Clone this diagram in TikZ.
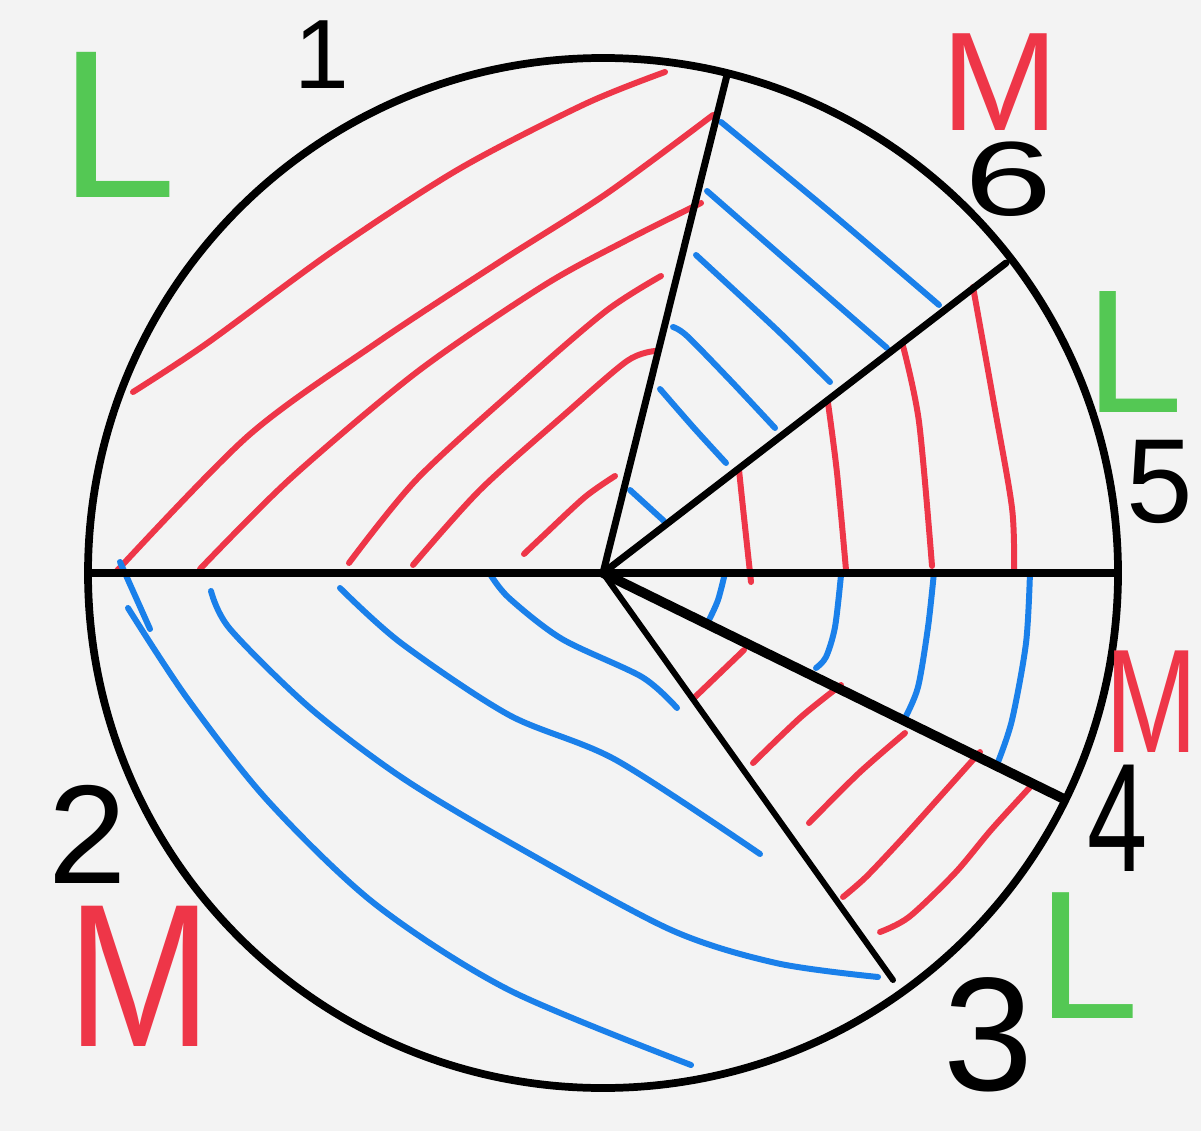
\documentclass[tikz,border=0pt]{standalone}
\usepackage{fontspec}
\setmainfont{Liberation Sans}
\definecolor{penred}{RGB}{238,54,72}
\definecolor{penblue}{RGB}{26,128,234}
\definecolor{pengreen}{RGB}{84,200,84}
\definecolor{paper}{RGB}{243,243,243}
\begin{document}
\begin{tikzpicture}
[x=0.01cm, y=-0.01cm, line cap=round, line join=round]
\tikzstyle{redline}=[draw=penred, line width=1.7pt]
\tikzstyle{blueline}=[draw=penblue, line width=1.7pt]
\tikzstyle{spoke}=[draw=black, line width=2pt]
\tikzstyle{hand}=[inner sep=0pt, text=black]
\fill[paper] (0,0) rectangle (1201,1131);
\useasboundingbox (0,0) rectangle (1201,1131);

\coordinate (O)  at (603,573);
\coordinate (P1) at (727,75);
\coordinate (P2) at (1006,263);
\coordinate (P3) at (1118,573);
\coordinate (P4) at (88,573);
\coordinate (P5) at (1064,799);
\coordinate (P6) at (893,980);

% sector 1
\draw[redline] plot[smooth] coordinates {(133,392) (206,344) (333,251) (459,169) (585,104) (665,72)};
\draw[redline] plot[smooth] coordinates {(114,574) (248,436) (375,344) (501,261) (606,194) (713,115)};
\draw[redline] plot[smooth] coordinates {(200,569) (290,479) (417,372) (543,286) (627,240) (701,203)};
\draw[redline] plot[smooth] coordinates {(349,563) (417,479) (522,383) (606,311) (661,276)};
\draw[redline] plot[smooth] coordinates {(413,565) (480,490) (564,415) (627,361) (655,351)};
\draw[redline] plot[smooth] coordinates {(524,554) (543,536) (585,497) (615,476)};
% sector 6
\draw[blueline] plot[smooth] coordinates {(721,122) (830,212) (939,305)};
\draw[blueline] plot[smooth] coordinates {(707,191) (794,267) (887,348)};
\draw[blueline] plot[smooth] coordinates {(696,255) (776,329) (830,382)};
\draw[blueline] plot[smooth] coordinates {(673,327) (687,336) (730,380) (775,428)};
\draw[blueline] plot[smooth] coordinates {(660,389) (694,428) (726,463)};
\draw[blueline] plot[smooth] coordinates {(630,490) (664,521)};
% sector 5
\draw[redline] plot[smooth] coordinates {(739,470) (743,508) (751,582)};
\draw[redline] plot[smooth] coordinates {(828,403) (837,473) (846,570)};
\draw[redline] plot[smooth] coordinates {(903,346) (919,422) (932,566)};
\draw[redline] plot[smooth] coordinates {(973,287) (994,404) (1012,508) (1014,570)};
% sector 4
\draw[blueline] plot[smooth] coordinates {(725,573) (718,600) (709,620)};
\draw[blueline] plot[smooth] coordinates {(841,575) (835,627) (826,657) (816,668)};
\draw[blueline] plot[smooth] coordinates {(934,572) (928,627) (918,687) (905,718)};
\draw[blueline] plot[smooth] coordinates {(1030,572) (1026,643) (1012,720) (998,762)};
% sector 3
\draw[redline] plot[smooth] coordinates {(694,698) (744,650)};
\draw[redline] plot[smooth] coordinates {(753,763) (801,717) (841,685)};
\draw[redline] plot[smooth] coordinates {(809,823) (859,773) (905,733)};
\draw[redline] plot[smooth] coordinates {(843,897) (866,877) (901,840) (937,800) (980,752)};
\draw[redline] plot[smooth] coordinates {(880,932) (909,917) (955,873) (991,830) (1032,785)};
% sector 2
\draw[blueline] plot[smooth] coordinates {(120,562) (150,629)};
\draw[blueline] plot[smooth] coordinates {(128,608) (187,698) (268,801) (375,904) (509,990) (691,1065)};
\draw[blueline] plot[smooth] coordinates {(211,591) (230,629) (310,708) (401,777) (509,842) (669,929) (776,963) (878,977)};
\draw[blueline] plot[smooth] coordinates {(340,588) (401,643) (509,715) (616,760) (760,854)};
\draw[blueline] plot[smooth] coordinates {(490,574) (509,598) (562,639) (642,677) (677,708)};

\draw[spoke, line width=2.2pt] (O) circle [radius=515];
\draw[spoke] (P4) -- (P3);
\draw[spoke] (O) -- (P1);
\draw[spoke] (O) -- (P2);
\draw[spoke, line width=2.8pt] (O) -- (P5);
\draw[spoke, line width=1.7pt] (O) -- (P6);

\node[hand, font=\fontsize{28}{28}\selectfont] (n1) at (322,55) {1};
\node[hand, font=\fontsize{40}{40}\selectfont] (n2) at (88,834) {2};
\node[hand, font=\fontsize{46}{46}\selectfont] (n3) at (988,1035) {3};
\node[hand, font=\fontsize{44}{44}\selectfont, xscale=0.7] (n4) at (1118,818) {4};
\node[hand, font=\fontsize{34}{34}\selectfont] (n5) at (1160,482) {5};
\node[hand, font=\fontsize{30}{30}\selectfont, xscale=1.5] (n6) at (1008,179) {6};
\node[hand, text=pengreen, font=\fontsize{60}{60}\selectfont] (L1) at (118,125) {L};
\node[hand, text=pengreen, font=\fontsize{50}{50}\selectfont] (L5) at (1134,352) {L};
\node[hand, text=pengreen, font=\fontsize{52}{52}\selectfont] (L3) at (1088,956) {L};
\node[hand, text=penred, font=\fontsize{40}{40}\selectfont] (M6) at (1000,82) {M};
\node[hand, text=penred, font=\fontsize{42}{42}\selectfont, xscale=0.75] (M4) at (1152,702) {M};
\node[hand, text=penred, font=\fontsize{58}{58}\selectfont, xscale=0.85] (M2) at (140,976) {M};
\end{tikzpicture}
\end{document}
